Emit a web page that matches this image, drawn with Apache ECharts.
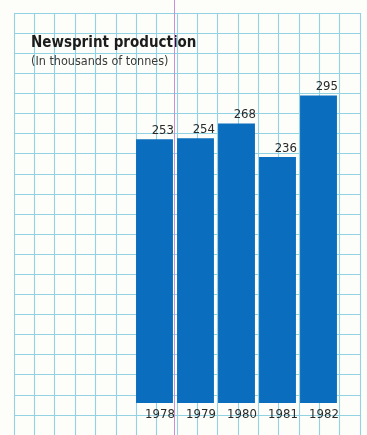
<!DOCTYPE html>
<html>
<head>
<meta charset="utf-8">
<script src="https://cdn.jsdelivr.net/npm/echarts@6/dist/echarts.min.js"></script>
<style>
  html, body { margin: 0; padding: 0; background: #fdfdf9; }
  #chart { width: 367px; height: 435px; }
</style>
</head>
<body>
<div id="chart"></div>
<script>
// data
const years = ['1978', '1979', '1980', '1981', '1982']
const production = [253, 254, 268, 236, 295]

const titleText = 'Newsprint production'
const subText = '(In thousands of tonnes)'

const font = '"Liberation Sans Narrow", "DejaVu Sans Condensed", sans-serif'
const paperLine = '#93d2e2'
const barBlue = '#0a6dbd'

const chart = echarts.init(document.getElementById('chart'))

const option = {
  backgroundColor: '#fdfdf9',
  animation: false,
  title: {
    text: titleText,
    subtext: subText,
    left: 26,
    top: 31,
    itemGap: 4,
    textStyle: {
      fontFamily: font,
      fontSize: 15,
      fontWeight: 'bold',
      color: '#1c1c1c'
    },
    subtextStyle: {
      fontFamily: font,
      fontSize: 12.5,
      color: '#3a3a3a'
    }
  },
  grid: [
    // graph paper background
    { left: 14, right: 7, top: 13, bottom: -7 },
    // the bars
    { left: 134, right: 28, top: 13, bottom: 32 }
  ],
  xAxis: [
    {
      gridIndex: 0,
      type: 'value',
      min: 0, max: 17, interval: 1,
      axisLine: { show: false },
      axisTick: { show: false },
      axisLabel: { show: false },
      splitLine: { show: true, lineStyle: { color: paperLine, width: 1.1 } }
    },
    {
      gridIndex: 1,
      type: 'category',
      data: years,
      axisLine: { show: false },
      axisTick: { show: false },
      axisLabel: {
        interval: 0,
        margin: 5,
        fontFamily: font,
        fontSize: 13,
        color: '#2a2a2a',
        padding: [0, 0, 0, 11]
      }
    }
  ],
  yAxis: [
    {
      gridIndex: 0,
      type: 'value',
      inverse: true,
      min: 0, max: 21, interval: 1,
      axisLine: { show: false },
      axisTick: { show: false },
      axisLabel: { show: false },
      splitLine: { show: true, lineStyle: { color: paperLine, width: 1.1 } }
    },
    {
      gridIndex: 1,
      type: 'value',
      min: 0, max: 374,
      show: false,
      splitLine: { show: false }
    }
  ],
  graphic: [
    {
      type: 'line',
      shape: { x1: 174.5, y1: 0, x2: 174.5, y2: 435 },
      style: { stroke: '#c98fd8', lineWidth: 1 },
      z: 100
    }
  ],
  series: [
    {
      name: 'Newsprint',
      type: 'bar',
      xAxisIndex: 1,
      yAxisIndex: 1,
      data: production,
      barCategoryGap: '10%',
      itemStyle: { color: barBlue },
      label: {
        show: true,
        position: ['100%', 0],
        align: 'right',
        verticalAlign: 'bottom',
        offset: [1, -2],
        fontFamily: font,
        fontSize: 13,
        color: '#2a2a2a'
      }
    }
  ]
}

chart.setOption(option, true)
</script>
</body>
</html>
